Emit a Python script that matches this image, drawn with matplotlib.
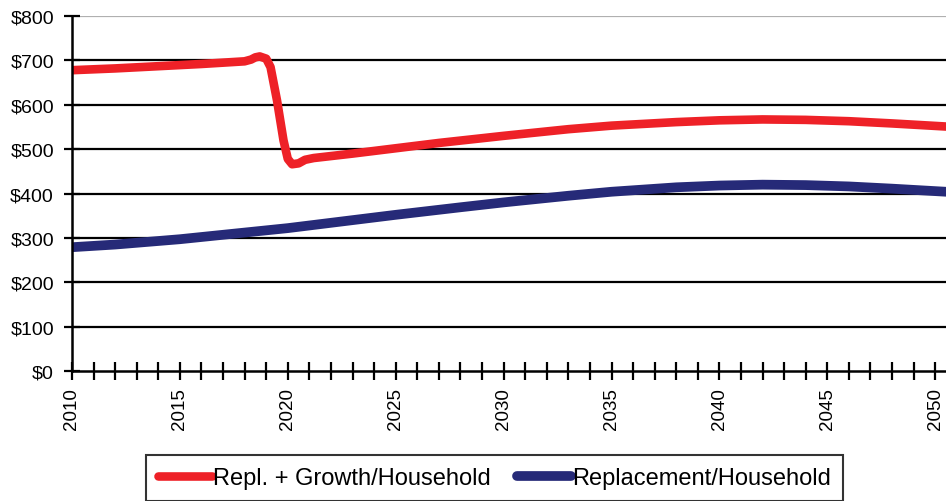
import matplotlib
matplotlib.use("Agg")
import matplotlib.pyplot as plt
from matplotlib.ticker import FuncFormatter, MultipleLocator

# Annual cost per household (USD)
growth_years = [2010, 2012, 2014, 2016, 2017, 2018, 2018.3, 2018.5, 2018.7, 2019.0,
                2019.2, 2019.5, 2019.8, 2020.0, 2020.2, 2020.5, 2020.8, 2021.2, 2023, 2025,
                2027, 2030, 2033, 2035, 2038, 2040, 2042, 2044, 2046, 2048, 2050.5]
growth_values = [678, 682, 687, 692, 695, 698, 702, 707, 709, 704,
                 685, 610, 520, 478, 466, 468, 476, 480, 490, 502,
                 514, 530, 545, 553, 561, 565, 567, 566, 563, 558, 551]

repl_years = [2010, 2012, 2015, 2018, 2020, 2022, 2025, 2028, 2030, 2033,
              2035, 2038, 2040, 2042, 2044, 2046, 2048, 2050.5]
repl_values = [279, 285, 297, 312, 322, 334, 352, 369, 380, 395,
               404, 414, 418, 420, 419, 416, 411, 404]

series_labels = ["Repl. + Growth/Household", "Replacement/Household"]
year_ticks = list(range(2010, 2051, 5))

plt.rcParams["font.family"] = ["Liberation Sans", "DejaVu Sans"]

fig = plt.figure(figsize=(9.46, 5.02), dpi=100)
ax = fig.add_axes([0.0761, 0.259, 0.9239, 0.707])

# horizontal gridlines
for v in range(100, 800, 100):
    ax.axhline(v, color="black", lw=1.6, zorder=1)
ax.axhline(800, color="#b0b0b0", lw=1.6, zorder=1)

ax.plot(growth_years, growth_values, color="#ee2127", lw=6.2,
        solid_capstyle="round", solid_joinstyle="round", zorder=3,
        label=series_labels[0])
ax.plot(repl_years, repl_values, color="#262a78", lw=7.0,
        solid_capstyle="round", solid_joinstyle="round", zorder=3,
        label=series_labels[1])

ax.set_xlim(2010, 2050.5)
ax.set_ylim(0, 800)

for side in ("top", "right"):
    ax.spines[side].set_visible(False)
for side in ("left", "bottom"):
    ax.spines[side].set_linewidth(1.8)
    ax.spines[side].set_color("black")
    ax.spines[side].set_zorder(4)

ax.yaxis.set_major_locator(MultipleLocator(100))
ax.yaxis.set_major_formatter(FuncFormatter(lambda v, p: f"${int(v)}"))
ax.set_xticks(year_ticks)
ax.set_xticklabels([str(y) for y in year_ticks], rotation=90)
ax.xaxis.set_minor_locator(MultipleLocator(1))

ax.tick_params(axis="y", direction="inout", length=12, width=1.6,
               labelsize=14, pad=7)
ax.tick_params(axis="x", which="both", direction="inout", length=13,
               width=1.6, labelsize=13.5, pad=5)

leg = fig.legend(loc="upper center", bbox_to_anchor=(0.5227, 0.0916), ncol=2,
                 frameon=True, fancybox=False, edgecolor="black",
                 fontsize=17, handlelength=2.3, handletextpad=0.05,
                 columnspacing=1.1, borderpad=0.5, borderaxespad=0.0)
leg.get_frame().set_linewidth(1.5)

fig.savefig("out.png", dpi=100)
